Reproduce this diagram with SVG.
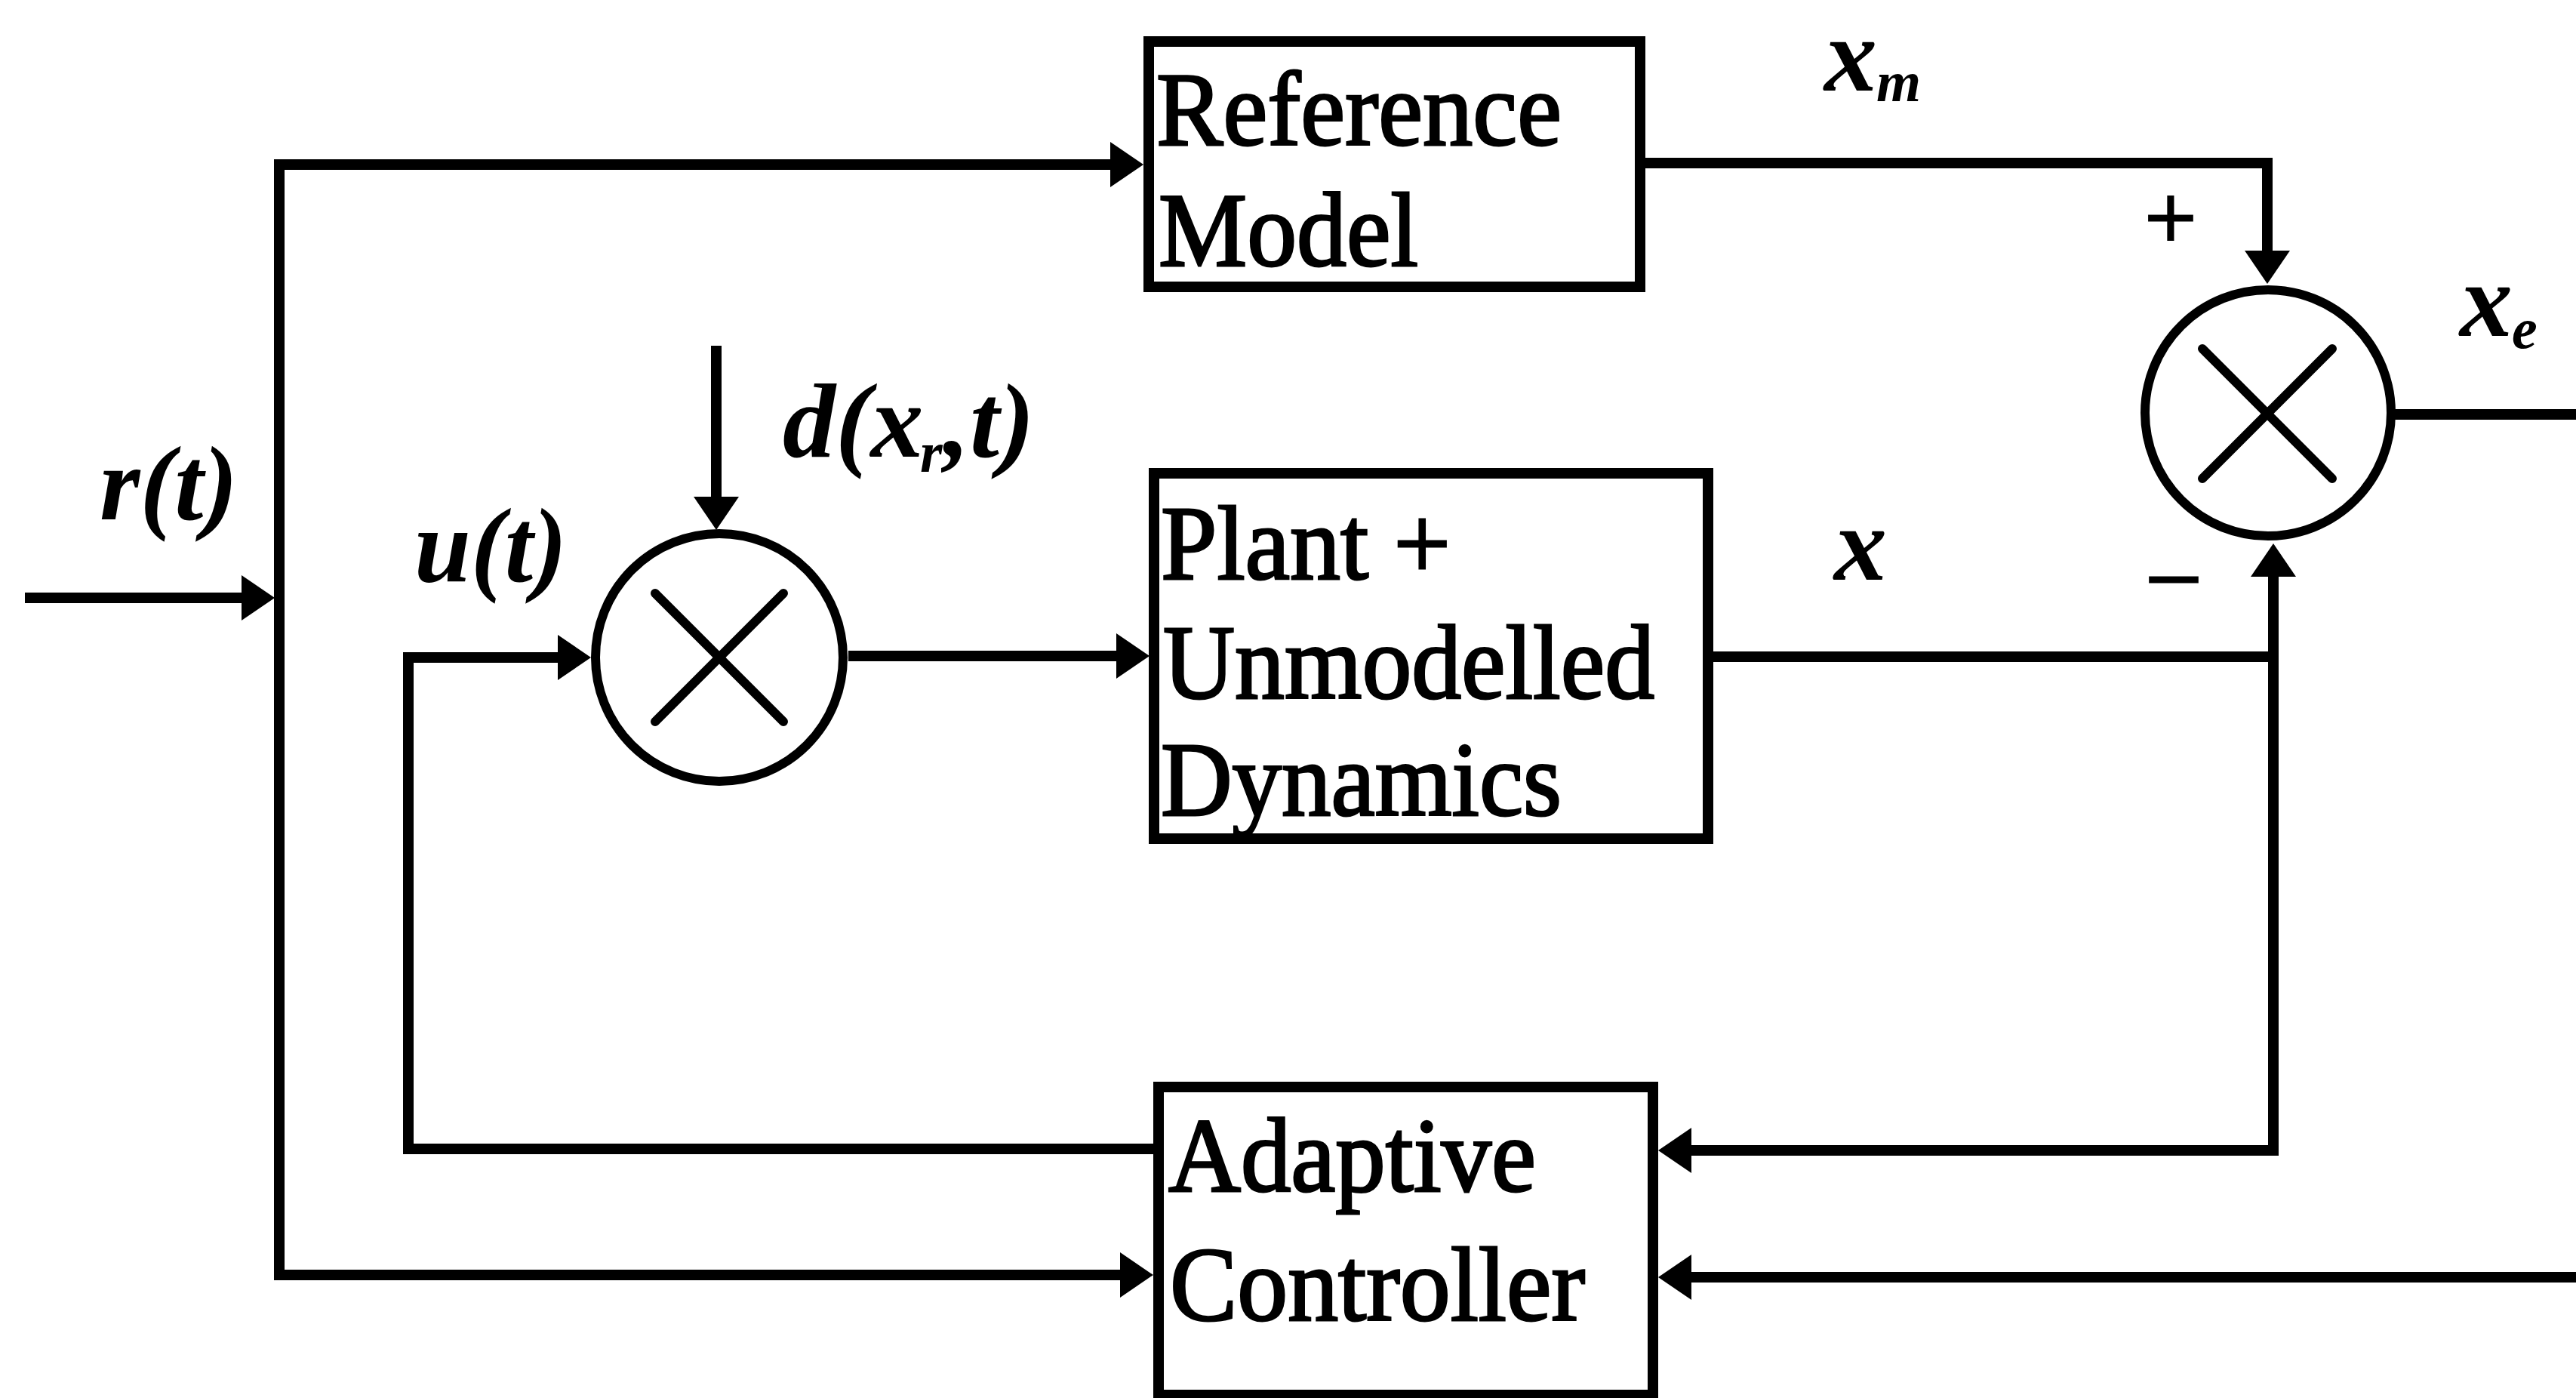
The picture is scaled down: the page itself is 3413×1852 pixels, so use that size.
<svg xmlns="http://www.w3.org/2000/svg" width="3413" height="1852" viewBox="0 0 3413 1852">
<style>
.box{fill:#fff;stroke:#000;stroke-width:14}
.sum{fill:#fff;stroke:#000;stroke-width:12}
.cross{stroke:#000;stroke-width:12;stroke-linecap:round}
.wire{fill:none;stroke:#000;stroke-width:14;stroke-linejoin:miter;stroke-linecap:butt}
.lbl{font-family:"Liberation Serif","Times New Roman",serif;font-size:140px;fill:#000;stroke:#000;stroke-width:3}
.math{font-family:"Liberation Serif","Times New Roman",serif;font-size:140px;font-style:italic;font-weight:bold;fill:#000}
.sub{font-size:76px}
.sign{font-family:"Liberation Serif","Times New Roman",serif;font-size:122px;fill:#000;stroke:#000;stroke-width:3}
</style>
<defs>
<marker id="arr" markerUnits="userSpaceOnUse" markerWidth="44" markerHeight="60" viewBox="0 0 44 60" refX="24" refY="30" orient="auto-start-reverse">
<path d="M0,0 L44,30 L0,60 z" fill="#000"/>
</marker>
</defs>
<rect x="0" y="0" width="3413" height="1852" fill="#fff"/>

<g id="connectors">
<path class="wire" d="M33,792 H344" marker-end="url(#arr)"/>
<path class="wire" d="M1495,218 H370 V1689 H1508" marker-start="url(#arr)" marker-end="url(#arr)"/>
<path class="wire" d="M2173,216 H3004 V356" marker-end="url(#arr)"/>
<path class="wire" d="M949,458 V682" marker-end="url(#arr)"/>
<path class="wire" d="M1535,1522 H541 V871 H763" marker-end="url(#arr)"/>
<path class="wire" d="M1124,869 H1503" marker-end="url(#arr)"/>
<path class="wire" d="M2263,870 H3012"/>
<path class="wire" d="M3012,740 V1524 H2217" marker-start="url(#arr)" marker-end="url(#arr)"/>
<path class="wire" d="M3168,549 H3413"/>
<path class="wire" d="M3413,1692 H2217" marker-end="url(#arr)"/>
</g>

<g id="ref-model">
<rect class="box" x="1522" y="55" width="651" height="325"/>
<text class="lbl" x="1532" y="192" textLength="537" lengthAdjust="spacingAndGlyphs">Reference</text>
<text class="lbl" x="1535" y="352" textLength="344" lengthAdjust="spacingAndGlyphs">Model</text>
</g>

<g id="plant">
<rect class="box" x="1529" y="627" width="734" height="484"/>
<text class="lbl" x="1538" y="767" textLength="384" lengthAdjust="spacingAndGlyphs">Plant +</text>
<text class="lbl" x="1541" y="925" textLength="651" lengthAdjust="spacingAndGlyphs">Unmodelled</text>
<text class="lbl" x="1538" y="1080" textLength="531" lengthAdjust="spacingAndGlyphs">Dynamics</text>
</g>

<g id="adaptive-controller">
<rect class="box" x="1535" y="1440" width="655" height="408"/>
<text class="lbl" x="1548" y="1578" textLength="487" lengthAdjust="spacingAndGlyphs">Adaptive</text>
<text class="lbl" x="1550" y="1749" textLength="550" lengthAdjust="spacingAndGlyphs">Controller</text>
</g>

<g id="sum-input">
<circle class="sum" cx="953" cy="871" r="164"/>
<line class="cross" x1="868" y1="786" x2="1038" y2="956"/>
<line class="cross" x1="1038" y1="786" x2="868" y2="956"/>
</g>

<g id="sum-error">
<circle class="sum" cx="3005" cy="547" r="163"/>
<line class="cross" x1="2918" y1="462" x2="3090" y2="634"/>
<line class="cross" x1="3090" y1="462" x2="2918" y2="634"/>
</g>

<g id="labels">
<text class="math" x="132" y="688" textLength="183" lengthAdjust="spacingAndGlyphs">r(t)</text>
<text class="math" x="549" y="770" textLength="202" lengthAdjust="spacingAndGlyphs">u(t)</text>
<text class="math" x="1037" y="605"><tspan>d(x</tspan><tspan class="sub" x="1219" y="625">r</tspan><tspan x="1250" y="605">,t)</tspan></text>
<text class="math" x="2417" y="120" font-size="128">x<tspan class="sub" x="2486" y="134">m</tspan></text>
<text class="math" x="2430" y="768">x</text>
<text class="math" x="3259" y="445">x<tspan class="sub" x="3328" y="461">e</tspan></text>
<text class="sign" x="2876" y="330" text-anchor="middle">+</text>
<text class="sign" x="2880" y="797" text-anchor="middle">–</text>
</g>
</svg>
